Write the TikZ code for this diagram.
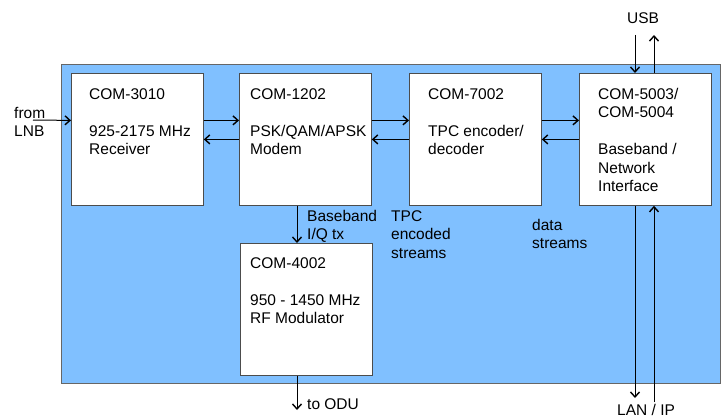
\documentclass[tikz,border=0pt]{standalone}
\usepackage{fontspec}
\setmainfont{Liberation Sans}
\usepackage{xcolor}
\usetikzlibrary{positioning}
\usetikzlibrary{arrows.meta}
\definecolor{panelblue}{RGB}{128,192,255}
\tikzset{
  unit/.style={draw=black!70, fill=white, line width=0.8pt, minimum width=132pt, minimum height=132pt, inner sep=0pt, anchor=north west},
  caption/.style={anchor=north west, inner sep=0pt, align=left, font=\fontsize{15.5}{18.5}\selectfont},
  sig/.style={line width=1pt, -{Straight Barb[length=5pt,width=9pt,line width=1.4pt]}},
}

\begin{document}
\begin{tikzpicture}[x=1pt,y=-1pt]
\useasboundingbox (0,0) rectangle (726,420);

\draw[fill=panelblue, draw=black!60, line width=0.8pt] (61,64) rectangle (720,383);

\node (rx) at (71,73) [unit] {};
\node (md) at (239,73) [unit] {};
\node (tc) at (409,73) [unit] {};
\node (ni) at (579,73) [unit] {};
\node (mo) at (240,243) [unit] {};

\node (rxtext) at (89,88) [caption] {COM-3010\\[18.5pt]925-2175 MHz\\Receiver};
\node (mdtext) at (250,88) [caption] {COM-1202\\[18.5pt]PSK/QAM/APSK\\Modem};
\node (tctext) at (428,88) [caption] {COM-7002\\[18.5pt]TPC encoder/\\decoder};
\node (nitext) at (598,88) [caption] {COM-5003/\\COM-5004\\[18.5pt]Baseband /\\Network\\Interface};
\node (motext) at (250,257) [caption] {COM-4002\\[18.5pt]950 - 1450 MHz\\RF Modulator};

\node (lnbtext) at (14,107) [caption] {from\\LNB};
\node (iqtext) at (307,210) [caption] {Baseband\\I/Q tx};
\node (tpctext) at (391,210) [caption] {TPC\\encoded\\streams};
\node (datatext) at (532,219) [caption] {data\\streams};
\node (odutext) at (307,398) [caption] {to ODU};
\node (usbtext) at (627,12) [caption] {USB};
\node (lantext) at (617,404) [caption] {LAN / IP};

\coordinate (lnb) at (33,120);
\coordinate (odu) at (297,410);
\coordinate (usbin) at (635,35);
\coordinate (usbout) at (654,35);
\coordinate (lanout) at (635,398);
\coordinate (lanin) at (654,402);

\draw[sig] (lnb) -- ([yshift=19pt]rx.west);
\draw[sig] ([yshift=19pt]rx.east) -- ([yshift=19pt]md.west);
\draw[sig] (md.west) -- (rx.east);
\draw[sig] ([yshift=19pt]md.east) -- ([yshift=19pt]tc.west);
\draw[sig] (tc.west) -- (md.east);
\draw[sig] ([yshift=19pt]tc.east) -- ([yshift=19pt]ni.west);
\draw[sig] (ni.west) -- (tc.east);

\draw[sig] (odu |- md.south) -- (odu |- mo.north);
\draw[sig] (odu |- mo.south) -- (odu);

\draw[sig] (usbin) -- (usbin |- ni.north);
\draw[sig] (usbout |- ni.north) -- (usbout);
\draw[sig] (lanout |- ni.south) -- (lanout);
\draw[sig] (lanin) -- (lanin |- ni.south);

\end{tikzpicture}
\end{document}
